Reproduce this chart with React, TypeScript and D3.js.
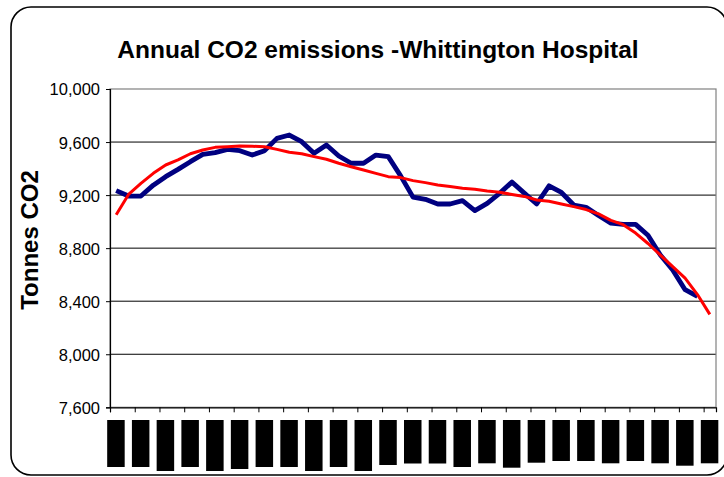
import * as d3 from 'd3';
import React, { useEffect, useRef } from 'react';

// Annual CO2 (tonnes), rolling values
const actualTonnes = [
  9234, 9193, 9193, 9275, 9339, 9394, 9452, 9507, 9520, 9545,
  9535, 9502, 9535, 9628, 9653, 9603, 9515, 9578, 9495, 9440,
  9440, 9502, 9490, 9345, 9185, 9168, 9133, 9133, 9158, 9083,
  9138, 9213, 9298, 9215, 9133, 9270, 9220, 9125, 9108, 9046,
  8989, 8979, 8979, 8897, 8748, 8636, 8487, 8437,
];

// trend line, one period further than the actuals
const trendTonnes = [
  9052, 9205, 9289, 9364, 9427, 9465, 9512, 9540, 9560, 9565,
  9570, 9568, 9565, 9545, 9523, 9512, 9490, 9470, 9440, 9414,
  9389, 9364, 9339, 9332, 9309, 9294, 9276, 9264, 9251, 9244,
  9231, 9221, 9205, 9190, 9163, 9153, 9133, 9113, 9091, 9058,
  9009, 8977, 8914, 8835, 8748, 8661, 8574, 8450, 8301,
];

const yTicks = [7600, 8000, 8400, 8800, 9200, 9600, 10000];

// category labels are blacked out in the source; only their lengths remain
const labelLengths = [
  47, 47, 51, 47, 51, 49, 47, 47, 51, 47, 51, 45, 43.5,
  43.5, 47, 43.3, 47.7, 42.7, 41, 41, 43.3, 41, 43.3, 45.7, 43.3,
];

const TITLE = 'Annual CO2 emissions -Whittington Hospital';
const Y_TITLE = 'Tonnes CO2';

const App: React.FC = () => {
  const ref = useRef<SVGSVGElement>(null);

  useEffect(() => {
    if (!ref.current) return;
    const svg = d3.select(ref.current);
    svg.selectAll('*').remove();

    const font = '"Liberation Sans", Arial, sans-serif';
    const plot = { left: 110, right: 716, top: 89, bottom: 407.3 };

    // outer chart frame with rounded corners
    svg.append('rect')
      .attr('x', 11).attr('y', 7)
      .attr('width', 716).attr('height', 468)
      .attr('rx', 20).attr('ry', 20)
      .attr('fill', '#fff')
      .attr('stroke', '#000')
      .attr('stroke-width', 1.6);

    const periods = d3.range(trendTonnes.length);
    const x = d3.scaleBand<number>()
      .domain(periods)
      .range([plot.left, plot.right])
      .padding(0);
    const xEdge = d3.scaleLinear()
      .domain([0, periods.length])
      .range([plot.left, plot.right]);
    const y = d3.scaleLinear()
      .domain([7600, 10000])
      .range([plot.bottom, plot.top]);

    const cx = (i: number) => (x(i) as number) + x.bandwidth() / 2;

    // gridlines
    svg.append('g')
      .selectAll('line')
      .data(yTicks.filter(t => t > 7600 && t < 10000))
      .enter().append('line')
      .attr('x1', plot.left).attr('x2', plot.right)
      .attr('y1', d => y(d)).attr('y2', d => y(d))
      .attr('stroke', '#000')
      .attr('stroke-width', 1);

    // plot area border
    svg.append('rect')
      .attr('x', plot.left).attr('y', plot.top)
      .attr('width', plot.right - plot.left)
      .attr('height', plot.bottom - plot.top)
      .attr('fill', 'none')
      .attr('stroke', '#808080')
      .attr('stroke-width', 1.2);

    // Y axis
    const yAxis = svg.append('g')
      .attr('transform', `translate(${plot.left},0)`)
      .call(d3.axisLeft(y).tickValues(yTicks).tickSize(4).tickPadding(6).tickFormat(d3.format(',')));
    yAxis.select('.domain').attr('stroke', '#000').attr('stroke-width', 1.2);
    yAxis.selectAll('line').attr('stroke', '#000');
    yAxis.selectAll('text')
      .style('font', `16.5px ${font}`)
      .style('fill', '#000')
      .attr('dy', '0.36em');

    // X axis: tick marks every second period
    const xAxis = svg.append('g')
      .attr('transform', `translate(0,${plot.bottom})`)
      .call(d3.axisBottom(xEdge).tickValues(d3.range(0, periods.length, 2)).tickSize(5).tickFormat(() => ''));
    xAxis.select('.domain').attr('stroke', '#000').attr('stroke-width', 1.2);
    xAxis.selectAll('line').attr('stroke', '#000');

    // redacted category labels
    svg.append('g')
      .selectAll('rect')
      .data(labelLengths)
      .enter().append('rect')
      .attr('x', (_, k) => cx(k * 2) - 9)
      .attr('y', 420)
      .attr('width', 17.5)
      .attr('height', d => d)
      .attr('fill', '#000');

    const line = d3.line<number>()
      .x((_, i) => cx(i))
      .y(d => y(d));

    svg.append('path')
      .datum(actualTonnes)
      .attr('d', line)
      .attr('fill', 'none')
      .attr('stroke', '#000080')
      .attr('stroke-width', 4.8)
      .attr('stroke-linejoin', 'round');

    svg.append('path')
      .datum(trendTonnes)
      .attr('d', line)
      .attr('fill', 'none')
      .attr('stroke', '#ff0000')
      .attr('stroke-width', 3)
      .attr('stroke-linejoin', 'round');

    // titles
    svg.append('text')
      .attr('x', 378).attr('y', 57.5)
      .attr('text-anchor', 'middle')
      .style('font', `bold 24.5px ${font}`)
      .text(TITLE);

    svg.append('text')
      .attr('transform', 'translate(37.5,240) rotate(-90)')
      .attr('text-anchor', 'middle')
      .style('font', `bold 24px ${font}`)
      .text(Y_TITLE);
  }, []);

  return (
    <svg
      ref={ref}
      width={724}
      height={477}
      style={{ position: 'absolute', left: 0, top: 0, background: '#fff' }}
    />
  );
};

export default App;
